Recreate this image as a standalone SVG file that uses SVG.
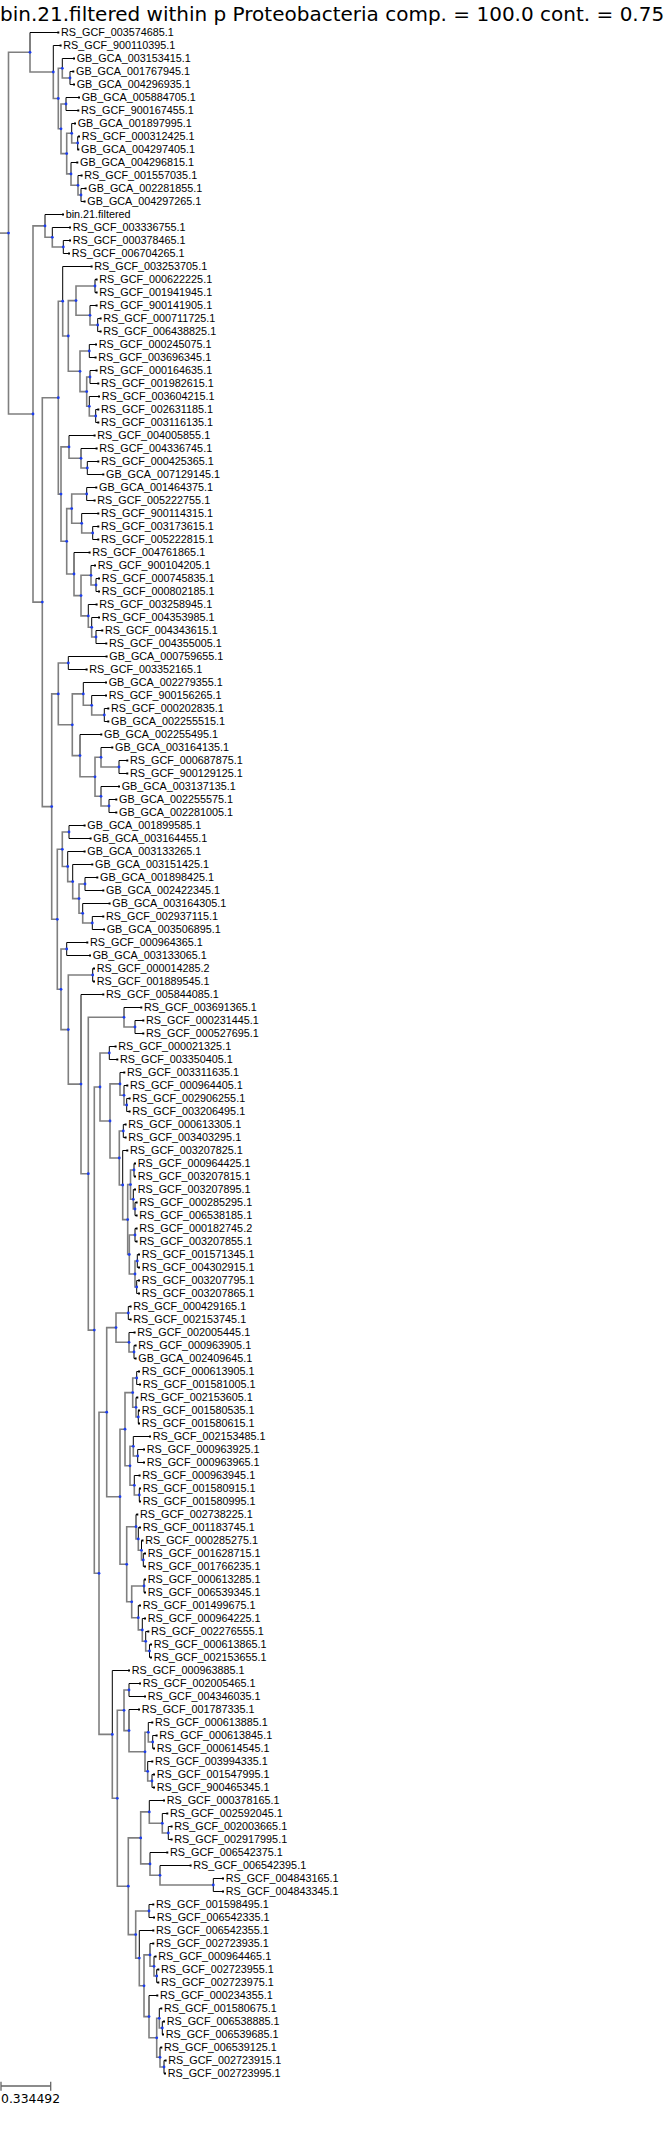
<svg xmlns="http://www.w3.org/2000/svg" xmlns:xlink="http://www.w3.org/1999/xlink" width="671" height="2131" viewBox="0 0 671 2131">
<style>
.k{fill:none;stroke:#000;stroke-width:1}
.g{fill:none;stroke:#7f7f7f;stroke-width:1.6}
.l{font-family:"Liberation Sans",Arial,sans-serif;font-size:10.8px;fill:#000}
.t{font-family:"DejaVu Sans",Verdana,sans-serif;fill:#000}
</style>
<defs>
<rect id="s" x="-1" y="-1" width="2" height="2" fill="#000"/>
<circle id="d" r="1.4" fill="#1a3cf0"/>
</defs>
<rect width="671" height="2131" fill="#fff"/>
<text class="t" x="0" y="20.7" font-size="20">bin.21.filtered within p Proteobacteria comp. = 100.0 cont. = 0.75</text>
<g transform="translate(0,0.5)">
<g id="connectors">
<path class="g" d="M0 232.6H8.5"/>
<path class="g" d="M8.5 232.6V51.8H30"/><path class="g" d="M8.5 232.6V413.5H33"/>
<path class="k" d="M30 51.8V32H58.3"/><path class="g" d="M30 51.8V71.5H53.3"/>
<path class="k" d="M53.3 71.5V45H60.6"/><path class="g" d="M53.3 71.5V98H58.3"/>
<path class="g" d="M58.3 98V67.8H62.3"/><path class="g" d="M58.3 98V128.3H61"/>
<path class="k" d="M62.3 67.8V58H74"/><path class="g" d="M62.3 67.8V77.5H70"/>
<path class="k" d="M70 77.5V71H73.3"/><path class="k" d="M70 77.5V84H74"/>
<path class="g" d="M61 128.3V103.5H66"/><path class="g" d="M61 128.3V153.1H66.7"/>
<path class="k" d="M66 103.5V97H79"/><path class="k" d="M66 103.5V110H78.3"/>
<path class="g" d="M66.7 153.1V132.8H71.7"/><path class="g" d="M66.7 153.1V173.4H71"/>
<path class="k" d="M71.7 132.8V123H75"/><path class="g" d="M71.7 132.8V142.5H77.7"/>
<path class="k" d="M77.7 142.5V136H79"/><path class="k" d="M77.7 142.5V149H78.3"/>
<path class="k" d="M71 173.4V162H77.3"/><path class="g" d="M71 173.4V184.8H78"/>
<path class="k" d="M78 184.8V175H81.6"/><path class="g" d="M78 184.8V194.5H81"/>
<path class="k" d="M81 194.5V188H85.6"/><path class="k" d="M81 194.5V201H84.6"/>
<path class="g" d="M33 413.5V225.4H45"/><path class="g" d="M33 413.5V601.6H42.3"/>
<path class="k" d="M45 225.4V214H63"/><path class="g" d="M45 225.4V236.8H52.3"/>
<path class="k" d="M52.3 236.8V227H70"/><path class="g" d="M52.3 236.8V246.5H63.3"/>
<path class="k" d="M63.3 246.5V240H70"/><path class="k" d="M63.3 246.5V253H69"/>
<path class="g" d="M42.3 601.6V397.2H58.3"/><path class="g" d="M42.3 601.6V806.1H51.7"/>
<path class="g" d="M58.3 397.2V300.7H62.7"/><path class="g" d="M58.3 397.2V493.6H61"/>
<path class="k" d="M62.7 300.7V266H91.6"/><path class="g" d="M62.7 300.7V335.5H68.3"/>
<path class="g" d="M68.3 335.5V300.1H76"/><path class="g" d="M68.3 335.5V370.8H80"/>
<path class="g" d="M76 300.1V285.5H95"/><path class="g" d="M76 300.1V314.8H90"/>
<path class="k" d="M95 285.5V279H96.6"/><path class="k" d="M95 285.5V292H96.6"/>
<path class="k" d="M90 314.8V305H96.6"/><path class="g" d="M90 314.8V324.5H97.7"/>
<path class="k" d="M97.7 324.5V318H100.6"/><path class="k" d="M97.7 324.5V331H100.6"/>
<path class="g" d="M80 370.8V350.5H89.3"/><path class="g" d="M80 370.8V391.1H86.7"/>
<path class="k" d="M89.3 350.5V344H96"/><path class="k" d="M89.3 350.5V357H95.6"/>
<path class="g" d="M86.7 391.1V376.5H90"/><path class="g" d="M86.7 391.1V405.8H89.3"/>
<path class="k" d="M90 376.5V370H96.6"/><path class="k" d="M90 376.5V383H98.3"/>
<path class="k" d="M89.3 405.8V396H99"/><path class="g" d="M89.3 405.8V415.5H95.7"/>
<path class="k" d="M95.7 415.5V409H98.3"/><path class="k" d="M95.7 415.5V422H98.3"/>
<path class="g" d="M61 493.6V446.4H69"/><path class="g" d="M61 493.6V540.8H66.7"/>
<path class="k" d="M69 446.4V435H94.6"/><path class="g" d="M69 446.4V457.8H81"/>
<path class="k" d="M81 457.8V448H96.6"/><path class="g" d="M81 457.8V467.5H87.3"/>
<path class="k" d="M87.3 467.5V461H98.3"/><path class="k" d="M87.3 467.5V474H103.3"/>
<path class="g" d="M66.7 540.8V508.1H71.7"/><path class="g" d="M66.7 540.8V573.5H74"/>
<path class="g" d="M71.7 508.1V493.5H86.7"/><path class="g" d="M71.7 508.1V522.8H81.7"/>
<path class="k" d="M86.7 493.5V487H96.3"/><path class="k" d="M86.7 493.5V500H94.6"/>
<path class="k" d="M81.7 522.8V513H98.3"/><path class="g" d="M81.7 522.8V532.5H92.7"/>
<path class="k" d="M92.7 532.5V526H98.3"/><path class="k" d="M92.7 532.5V539H98.3"/>
<path class="k" d="M74 573.5V552H89.6"/><path class="g" d="M74 573.5V595.1H81"/>
<path class="g" d="M81 595.1V574.8H91"/><path class="g" d="M81 595.1V615.4H88.3"/>
<path class="k" d="M91 574.8V565H95"/><path class="g" d="M91 574.8V584.5H96"/>
<path class="k" d="M96 584.5V578H99"/><path class="k" d="M96 584.5V591H99"/>
<path class="k" d="M88.3 615.4V604H96.6"/><path class="g" d="M88.3 615.4V626.8H91.7"/>
<path class="k" d="M91.7 626.8V617H99"/><path class="g" d="M91.7 626.8V636.5H96"/>
<path class="k" d="M96 636.5V630H102.3"/><path class="k" d="M96 636.5V643H106.3"/>
<path class="g" d="M51.7 806.1V693.4H58.3"/><path class="g" d="M51.7 806.1V918.8H57.3"/>
<path class="g" d="M58.3 693.4V662.5H68.3"/><path class="g" d="M58.3 693.4V724.3H72.3"/>
<path class="k" d="M68.3 662.5V656H106.6"/><path class="k" d="M68.3 662.5V669H86.6"/>
<path class="g" d="M72.3 724.3V693.4H83.3"/><path class="g" d="M72.3 724.3V755.1H80"/>
<path class="k" d="M83.3 693.4V682H106"/><path class="g" d="M83.3 693.4V704.8H91.7"/>
<path class="k" d="M91.7 704.8V695H106"/><path class="g" d="M91.7 704.8V714.5H104.3"/>
<path class="k" d="M104.3 714.5V708H108.3"/><path class="k" d="M104.3 714.5V721H108.3"/>
<path class="k" d="M80 755.1V734H101.3"/><path class="g" d="M80 755.1V776.3H95"/>
<path class="g" d="M95 776.3V756.8H101"/><path class="g" d="M95 776.3V795.8H101"/>
<path class="k" d="M101 756.8V747H112.3"/><path class="g" d="M101 756.8V766.5H119"/>
<path class="k" d="M119 766.5V760H127.3"/><path class="k" d="M119 766.5V773H127.3"/>
<path class="k" d="M101 795.8V786H119"/><path class="g" d="M101 795.8V805.5H109"/>
<path class="k" d="M109 805.5V799H116.3"/><path class="k" d="M109 805.5V812H116.3"/>
<path class="g" d="M57.3 918.8V848.8H62.3"/><path class="g" d="M57.3 918.8V988.8H61"/>
<path class="g" d="M62.3 848.8V831.5H69"/><path class="g" d="M62.3 848.8V866H67.7"/>
<path class="k" d="M69 831.5V825H84.6"/><path class="k" d="M69 831.5V838H90.6"/>
<path class="k" d="M67.7 866V851H84.6"/><path class="g" d="M67.7 866V881.1H72.7"/>
<path class="k" d="M72.7 881.1V864H92.3"/><path class="g" d="M72.7 881.1V898.1H79"/>
<path class="g" d="M79 898.1V883.5H85"/><path class="g" d="M79 898.1V912.8H82.7"/>
<path class="k" d="M85 883.5V877H97.3"/><path class="k" d="M85 883.5V890H103.3"/>
<path class="k" d="M82.7 912.8V903H109.6"/><path class="g" d="M82.7 912.8V922.5H92.3"/>
<path class="k" d="M92.3 922.5V916H103.3"/><path class="k" d="M92.3 922.5V929H104"/>
<path class="g" d="M61 988.8V948.5H66.7"/><path class="g" d="M61 988.8V1029.1H68.3"/>
<path class="k" d="M66.7 948.5V942H87.3"/><path class="k" d="M66.7 948.5V955H90"/>
<path class="g" d="M68.3 1029.1V974.5H92.7"/><path class="g" d="M68.3 1029.1V1083.6H81"/>
<path class="k" d="M92.7 974.5V968H94"/><path class="k" d="M92.7 974.5V981H94"/>
<path class="k" d="M81 1083.6V994H103.3"/><path class="g" d="M81 1083.6V1173.2H88.3"/>
<path class="g" d="M88.3 1173.2V1016.8H124"/><path class="g" d="M88.3 1173.2V1329.6H94.3"/>
<path class="k" d="M124 1016.8V1007H141.3"/><path class="g" d="M124 1016.8V1026.5H135"/>
<path class="k" d="M135 1026.5V1020H143.3"/><path class="k" d="M135 1026.5V1033H143.3"/>
<path class="g" d="M94.3 1329.6V1086.5H100"/><path class="g" d="M94.3 1329.6V1572.8H99"/>
<path class="g" d="M100 1086.5V1052.5H109.3"/><path class="g" d="M100 1086.5V1120.5H110"/>
<path class="k" d="M109.3 1052.5V1046H115.6"/><path class="k" d="M109.3 1052.5V1059H117.3"/>
<path class="g" d="M110 1120.5V1083.4H120"/><path class="g" d="M110 1120.5V1157.5H119.3"/>
<path class="k" d="M120 1083.4V1072H124.3"/><path class="g" d="M120 1083.4V1094.8H124"/>
<path class="k" d="M124 1094.8V1085H127.3"/><path class="g" d="M124 1094.8V1104.5H126.7"/>
<path class="k" d="M126.7 1104.5V1098H129.6"/><path class="k" d="M126.7 1104.5V1111H129.6"/>
<path class="g" d="M119.3 1157.5V1130.5H123.3"/><path class="g" d="M119.3 1157.5V1184.5H122.7"/>
<path class="k" d="M123.3 1130.5V1124H125.6"/><path class="k" d="M123.3 1130.5V1137H125.6"/>
<path class="k" d="M122.7 1184.5V1150H127.3"/><path class="g" d="M122.7 1184.5V1219.1H127.7"/>
<path class="g" d="M127.7 1219.1V1184.1H130.5"/><path class="g" d="M127.7 1219.1V1254H129.3"/>
<path class="g" d="M130.5 1184.1V1169.5H134"/><path class="g" d="M130.5 1184.1V1198.8H133.3"/>
<path class="k" d="M134 1169.5V1163H135"/><path class="k" d="M134 1169.5V1176H135"/>
<path class="k" d="M133.3 1198.8V1189H135"/><path class="g" d="M133.3 1198.8V1208.5H135"/>
<path class="k" d="M135 1208.5V1202H136.6"/><path class="k" d="M135 1208.5V1215H136.6"/>
<path class="g" d="M129.3 1254V1234.5H135"/><path class="g" d="M129.3 1254V1273.5H135"/>
<path class="k" d="M135 1234.5V1228H136.6"/><path class="k" d="M135 1234.5V1241H136.6"/>
<path class="g" d="M135 1273.5V1260.5H137.3"/><path class="g" d="M135 1273.5V1286.5H136.7"/>
<path class="k" d="M137.3 1260.5V1254H139"/><path class="k" d="M137.3 1260.5V1267H139"/>
<path class="k" d="M136.7 1286.5V1280H139"/><path class="k" d="M136.7 1286.5V1293H139"/>
<path class="g" d="M99 1572.8V1411.7H106.7"/><path class="g" d="M99 1572.8V1733.9H112.3"/>
<path class="g" d="M106.7 1411.7V1327.1H116"/><path class="g" d="M106.7 1411.7V1496.2H120"/>
<path class="g" d="M116 1327.1V1312.5H128.3"/><path class="g" d="M116 1327.1V1341.8H129"/>
<path class="k" d="M128.3 1312.5V1306H130.6"/><path class="k" d="M128.3 1312.5V1319H130.6"/>
<path class="k" d="M129 1341.8V1332H134.6"/><path class="g" d="M129 1341.8V1351.5H134"/>
<path class="k" d="M134 1351.5V1345H135.6"/><path class="k" d="M134 1351.5V1358H135.6"/>
<path class="g" d="M120 1496.2V1428.7H125"/><path class="g" d="M120 1496.2V1563.8H126.7"/>
<path class="g" d="M125 1428.7V1392.1H132.7"/><path class="g" d="M125 1428.7V1465.3H130"/>
<path class="g" d="M132.7 1392.1V1377.5H136.7"/><path class="g" d="M132.7 1392.1V1406.8H136"/>
<path class="k" d="M136.7 1377.5V1371H139"/><path class="k" d="M136.7 1377.5V1384H140"/>
<path class="k" d="M136 1406.8V1397H137.3"/><path class="g" d="M136 1406.8V1416.5H138.3"/>
<path class="k" d="M138.3 1416.5V1410H139"/><path class="k" d="M138.3 1416.5V1423H139"/>
<path class="g" d="M130 1465.3V1445.8H133.3"/><path class="g" d="M130 1465.3V1484.8H134.3"/>
<path class="k" d="M133.3 1445.8V1436H150"/><path class="g" d="M133.3 1445.8V1455.5H137.7"/>
<path class="k" d="M137.7 1455.5V1449H144"/><path class="k" d="M137.7 1455.5V1462H144"/>
<path class="k" d="M134.3 1484.8V1475H139.6"/><path class="g" d="M134.3 1484.8V1494.5H139.3"/>
<path class="k" d="M139.3 1494.5V1488H140"/><path class="k" d="M139.3 1494.5V1501H140"/>
<path class="g" d="M126.7 1563.8V1526.2H136"/><path class="g" d="M126.7 1563.8V1601.3H131.7"/>
<path class="k" d="M136 1526.2V1514H137.3"/><path class="g" d="M136 1526.2V1538.4H138.3"/>
<path class="k" d="M138.3 1538.4V1527H140"/><path class="g" d="M138.3 1538.4V1549.8H141.5"/>
<path class="k" d="M141.5 1549.8V1540H142.5"/><path class="g" d="M141.5 1549.8V1559.5H143.3"/>
<path class="k" d="M143.3 1559.5V1553H145"/><path class="k" d="M143.3 1559.5V1566H145"/>
<path class="g" d="M131.7 1601.3V1585.5H144"/><path class="g" d="M131.7 1601.3V1617.2H138.3"/>
<path class="k" d="M144 1585.5V1579H145"/><path class="k" d="M144 1585.5V1592H145"/>
<path class="k" d="M138.3 1617.2V1605H140"/><path class="g" d="M138.3 1617.2V1629.4H142.3"/>
<path class="k" d="M142.3 1629.4V1618H145"/><path class="g" d="M142.3 1629.4V1640.8H145.7"/>
<path class="k" d="M145.7 1640.8V1631H148.3"/><path class="g" d="M145.7 1640.8V1650.5H149.5"/>
<path class="k" d="M149.5 1650.5V1644H151"/><path class="k" d="M149.5 1650.5V1657H151"/>
<path class="k" d="M112.3 1733.9V1670H129"/><path class="g" d="M112.3 1733.9V1797.8H117.3"/>
<path class="g" d="M117.3 1797.8V1709.8H124"/><path class="g" d="M117.3 1797.8V1885.7H128.3"/>
<path class="g" d="M124 1709.8V1689.5H129"/><path class="g" d="M124 1709.8V1730.1H129"/>
<path class="k" d="M129 1689.5V1683H140"/><path class="k" d="M129 1689.5V1696H145"/>
<path class="k" d="M129 1730.1V1709H139"/><path class="g" d="M129 1730.1V1751.3H145"/>
<path class="g" d="M145 1751.3V1731.8H148.3"/><path class="g" d="M145 1751.3V1770.8H147.7"/>
<path class="k" d="M148.3 1731.8V1722H152.3"/><path class="g" d="M148.3 1731.8V1741.5H152.7"/>
<path class="k" d="M152.7 1741.5V1735H156.6"/><path class="k" d="M152.7 1741.5V1748H154"/>
<path class="k" d="M147.7 1770.8V1761H152.3"/><path class="g" d="M147.7 1770.8V1780.5H152"/>
<path class="k" d="M152 1780.5V1774H154"/><path class="k" d="M152 1780.5V1787H154"/>
<path class="g" d="M128.3 1885.7V1837.4H140.7"/><path class="g" d="M128.3 1885.7V1934.1H135.7"/>
<path class="g" d="M140.7 1837.4V1811.4H149.3"/><path class="g" d="M140.7 1837.4V1863.4H150"/>
<path class="k" d="M149.3 1811.4V1800H164"/><path class="g" d="M149.3 1811.4V1822.8H162.3"/>
<path class="k" d="M162.3 1822.8V1813H167.3"/><path class="g" d="M162.3 1822.8V1832.5H168.3"/>
<path class="k" d="M168.3 1832.5V1826H171.6"/><path class="k" d="M168.3 1832.5V1839H171.6"/>
<path class="k" d="M150 1863.4V1852H167.3"/><path class="g" d="M150 1863.4V1874.8H160"/>
<path class="k" d="M160 1874.8V1865H190.6"/><path class="g" d="M160 1874.8V1884.5H213.3"/>
<path class="k" d="M213.3 1884.5V1878H223"/><path class="k" d="M213.3 1884.5V1891H223"/>
<path class="g" d="M135.7 1934.1V1910.5H149"/><path class="g" d="M135.7 1934.1V1957.6H139.3"/>
<path class="k" d="M149 1910.5V1904H153.3"/><path class="k" d="M149 1910.5V1917H154"/>
<path class="k" d="M139.3 1957.6V1930H153.3"/><path class="g" d="M139.3 1957.6V1985.3H144"/>
<path class="g" d="M144 1985.3V1954.4H150"/><path class="g" d="M144 1985.3V2016.1H149"/>
<path class="k" d="M150 1954.4V1943H153.3"/><path class="g" d="M150 1954.4V1965.8H154"/>
<path class="k" d="M154 1965.8V1956H155.6"/><path class="g" d="M154 1965.8V1975.5H156.7"/>
<path class="k" d="M156.7 1975.5V1969H158.3"/><path class="k" d="M156.7 1975.5V1982H158.3"/>
<path class="k" d="M149 2016.1V1995H157.3"/><path class="g" d="M149 2016.1V2037.3H156.7"/>
<path class="g" d="M156.7 2037.3V2017.8H159.3"/><path class="g" d="M156.7 2037.3V2056.8H160"/>
<path class="k" d="M159.3 2017.8V2008H161.3"/><path class="g" d="M159.3 2017.8V2027.5H162.3"/>
<path class="k" d="M162.3 2027.5V2021H164"/><path class="k" d="M162.3 2027.5V2034H163"/>
<path class="k" d="M160 2056.8V2047H161.3"/><path class="g" d="M160 2056.8V2066.5H164"/>
<path class="k" d="M164 2066.5V2060H165.6"/><path class="k" d="M164 2066.5V2073H165"/>
</g>
<g id="internal-nodes">
<g id="root"><use href="#d" x="8.5" y="232.6"/></g>
<g id="nA"><use href="#d" x="30" y="51.8"/></g>
<g id="nA2"><use href="#d" x="53.3" y="71.5"/></g>
<g id="nA3"><use href="#d" x="58.3" y="98"/></g>
<g id="n3_5"><use href="#d" x="62.3" y="67.8"/></g>
<g id="n4_5"><use href="#d" x="70" y="77.5"/></g>
<g id="n6_14"><use href="#d" x="61" y="128.3"/></g>
<g id="n6_7"><use href="#d" x="66" y="103.5"/></g>
<g id="n8_14"><use href="#d" x="66.7" y="153.1"/></g>
<g id="n8_10"><use href="#d" x="71.7" y="132.8"/></g>
<g id="n9_10"><use href="#d" x="77.7" y="142.5"/></g>
<g id="n11_14"><use href="#d" x="71" y="173.4"/></g>
<g id="n12_14"><use href="#d" x="78" y="184.8"/></g>
<g id="n13_14"><use href="#d" x="81" y="194.5"/></g>
<g id="nB"><use href="#d" x="33" y="413.5"/></g>
<g id="n15_18"><use href="#d" x="45" y="225.4"/></g>
<g id="n16_18"><use href="#d" x="52.3" y="236.8"/></g>
<g id="n17_18"><use href="#d" x="63.3" y="246.5"/></g>
<g id="nB2"><use href="#d" x="42.3" y="601.6"/></g>
<g id="nC"><use href="#d" x="58.3" y="397.2"/></g>
<g id="nC1"><use href="#d" x="62.7" y="300.7"/></g>
<g id="nC1a"><use href="#d" x="68.3" y="335.5"/></g>
<g id="n20_24"><use href="#d" x="76" y="300.1"/></g>
<g id="n20_21"><use href="#d" x="95" y="285.5"/></g>
<g id="n22_24"><use href="#d" x="90" y="314.8"/></g>
<g id="n23_24"><use href="#d" x="97.7" y="324.5"/></g>
<g id="n25_31"><use href="#d" x="80" y="370.8"/></g>
<g id="n25_26"><use href="#d" x="89.3" y="350.5"/></g>
<g id="n27_31"><use href="#d" x="86.7" y="391.1"/></g>
<g id="n27_28"><use href="#d" x="90" y="376.5"/></g>
<g id="n29_31"><use href="#d" x="89.3" y="405.8"/></g>
<g id="n30_31"><use href="#d" x="95.7" y="415.5"/></g>
<g id="nC2"><use href="#d" x="61" y="493.6"/></g>
<g id="n32_35"><use href="#d" x="69" y="446.4"/></g>
<g id="n33_35"><use href="#d" x="81" y="457.8"/></g>
<g id="n34_35"><use href="#d" x="87.3" y="467.5"/></g>
<g id="n36_48"><use href="#d" x="66.7" y="540.8"/></g>
<g id="n36_40"><use href="#d" x="71.7" y="508.1"/></g>
<g id="n36_37"><use href="#d" x="86.7" y="493.5"/></g>
<g id="n38_40"><use href="#d" x="81.7" y="522.8"/></g>
<g id="n39_40"><use href="#d" x="92.7" y="532.5"/></g>
<g id="n41_48"><use href="#d" x="74" y="573.5"/></g>
<g id="n42_48"><use href="#d" x="81" y="595.1"/></g>
<g id="n42_44"><use href="#d" x="91" y="574.8"/></g>
<g id="n43_44"><use href="#d" x="96" y="584.5"/></g>
<g id="n45_48"><use href="#d" x="88.3" y="615.4"/></g>
<g id="n46_48"><use href="#d" x="91.7" y="626.8"/></g>
<g id="n47_48"><use href="#d" x="96" y="636.5"/></g>
<g id="nD"><use href="#d" x="51.7" y="806.1"/></g>
<g id="nD1"><use href="#d" x="58.3" y="693.4"/></g>
<g id="n49_50"><use href="#d" x="68.3" y="662.5"/></g>
<g id="n51_61"><use href="#d" x="72.3" y="724.3"/></g>
<g id="n51_54"><use href="#d" x="83.3" y="693.4"/></g>
<g id="n52_54"><use href="#d" x="91.7" y="704.8"/></g>
<g id="n53_54"><use href="#d" x="104.3" y="714.5"/></g>
<g id="n55_61"><use href="#d" x="80" y="755.1"/></g>
<g id="n56_61"><use href="#d" x="95" y="776.3"/></g>
<g id="n56_58"><use href="#d" x="101" y="756.8"/></g>
<g id="n57_58"><use href="#d" x="119" y="766.5"/></g>
<g id="n59_61"><use href="#d" x="101" y="795.8"/></g>
<g id="n60_61"><use href="#d" x="109" y="805.5"/></g>
<g id="nD2"><use href="#d" x="57.3" y="918.8"/></g>
<g id="n62_70"><use href="#d" x="62.3" y="848.8"/></g>
<g id="n62_63"><use href="#d" x="69" y="831.5"/></g>
<g id="n64_70"><use href="#d" x="67.7" y="866"/></g>
<g id="n65_70"><use href="#d" x="72.7" y="881.1"/></g>
<g id="n66_70"><use href="#d" x="79" y="898.1"/></g>
<g id="n66_67"><use href="#d" x="85" y="883.5"/></g>
<g id="n68_70"><use href="#d" x="82.7" y="912.8"/></g>
<g id="n69_70"><use href="#d" x="92.3" y="922.5"/></g>
<g id="n71_158"><use href="#d" x="61" y="988.8"/></g>
<g id="n71_72"><use href="#d" x="66.7" y="948.5"/></g>
<g id="n73_158"><use href="#d" x="68.3" y="1029.1"/></g>
<g id="n73_74"><use href="#d" x="92.7" y="974.5"/></g>
<g id="n75_158"><use href="#d" x="81" y="1083.6"/></g>
<g id="n76_158"><use href="#d" x="88.3" y="1173.2"/></g>
<g id="n76_78"><use href="#d" x="124" y="1016.8"/></g>
<g id="n77_78"><use href="#d" x="135" y="1026.5"/></g>
<g id="n79_158"><use href="#d" x="94.3" y="1329.6"/></g>
<g id="n79_98"><use href="#d" x="100" y="1086.5"/></g>
<g id="n79_80"><use href="#d" x="109.3" y="1052.5"/></g>
<g id="n81_98"><use href="#d" x="110" y="1120.5"/></g>
<g id="n81_84"><use href="#d" x="120" y="1083.4"/></g>
<g id="n82_84"><use href="#d" x="124" y="1094.8"/></g>
<g id="n83_84"><use href="#d" x="126.7" y="1104.5"/></g>
<g id="n85_98"><use href="#d" x="119.3" y="1157.5"/></g>
<g id="n85_86"><use href="#d" x="123.3" y="1130.5"/></g>
<g id="n87_98"><use href="#d" x="122.7" y="1184.5"/></g>
<g id="n88_98"><use href="#d" x="127.7" y="1219.1"/></g>
<g id="n88_92"><use href="#d" x="130.5" y="1184.1"/></g>
<g id="n88_89"><use href="#d" x="134" y="1169.5"/></g>
<g id="n90_92"><use href="#d" x="133.3" y="1198.8"/></g>
<g id="n91_92"><use href="#d" x="135" y="1208.5"/></g>
<g id="n93_98"><use href="#d" x="129.3" y="1254"/></g>
<g id="n93_94"><use href="#d" x="135" y="1234.5"/></g>
<g id="n95_98"><use href="#d" x="135" y="1273.5"/></g>
<g id="n95_96"><use href="#d" x="137.3" y="1260.5"/></g>
<g id="n97_98"><use href="#d" x="136.7" y="1286.5"/></g>
<g id="n99_158"><use href="#d" x="99" y="1572.8"/></g>
<g id="n99_126"><use href="#d" x="106.7" y="1411.7"/></g>
<g id="n99_103"><use href="#d" x="116" y="1327.1"/></g>
<g id="n99_100"><use href="#d" x="128.3" y="1312.5"/></g>
<g id="n101_103"><use href="#d" x="129" y="1341.8"/></g>
<g id="n102_103"><use href="#d" x="134" y="1351.5"/></g>
<g id="n104_126"><use href="#d" x="120" y="1496.2"/></g>
<g id="n104_114"><use href="#d" x="125" y="1428.7"/></g>
<g id="n104_108"><use href="#d" x="132.7" y="1392.1"/></g>
<g id="n104_105"><use href="#d" x="136.7" y="1377.5"/></g>
<g id="n106_108"><use href="#d" x="136" y="1406.8"/></g>
<g id="n107_108"><use href="#d" x="138.3" y="1416.5"/></g>
<g id="n109_114"><use href="#d" x="130" y="1465.3"/></g>
<g id="n109_111"><use href="#d" x="133.3" y="1445.8"/></g>
<g id="n110_111"><use href="#d" x="137.7" y="1455.5"/></g>
<g id="n112_114"><use href="#d" x="134.3" y="1484.8"/></g>
<g id="n113_114"><use href="#d" x="139.3" y="1494.5"/></g>
<g id="n115_126"><use href="#d" x="126.7" y="1563.8"/></g>
<g id="n115_119"><use href="#d" x="136" y="1526.2"/></g>
<g id="n116_119"><use href="#d" x="138.3" y="1538.4"/></g>
<g id="n117_119"><use href="#d" x="141.5" y="1549.8"/></g>
<g id="n118_119"><use href="#d" x="143.3" y="1559.5"/></g>
<g id="n120_126"><use href="#d" x="131.7" y="1601.3"/></g>
<g id="n120_121"><use href="#d" x="144" y="1585.5"/></g>
<g id="n122_126"><use href="#d" x="138.3" y="1617.2"/></g>
<g id="n123_126"><use href="#d" x="142.3" y="1629.4"/></g>
<g id="n124_126"><use href="#d" x="145.7" y="1640.8"/></g>
<g id="n125_126"><use href="#d" x="149.5" y="1650.5"/></g>
<g id="n127_158"><use href="#d" x="112.3" y="1733.9"/></g>
<g id="n128_158"><use href="#d" x="117.3" y="1797.8"/></g>
<g id="n128_136"><use href="#d" x="124" y="1709.8"/></g>
<g id="n128_129"><use href="#d" x="129" y="1689.5"/></g>
<g id="n130_136"><use href="#d" x="129" y="1730.1"/></g>
<g id="n131_136"><use href="#d" x="145" y="1751.3"/></g>
<g id="n131_133"><use href="#d" x="148.3" y="1731.8"/></g>
<g id="n132_133"><use href="#d" x="152.7" y="1741.5"/></g>
<g id="n134_136"><use href="#d" x="147.7" y="1770.8"/></g>
<g id="n135_136"><use href="#d" x="152" y="1780.5"/></g>
<g id="n137_158"><use href="#d" x="128.3" y="1885.7"/></g>
<g id="n137_144"><use href="#d" x="140.7" y="1837.4"/></g>
<g id="n137_140"><use href="#d" x="149.3" y="1811.4"/></g>
<g id="n138_140"><use href="#d" x="162.3" y="1822.8"/></g>
<g id="n139_140"><use href="#d" x="168.3" y="1832.5"/></g>
<g id="n141_144"><use href="#d" x="150" y="1863.4"/></g>
<g id="n142_144"><use href="#d" x="160" y="1874.8"/></g>
<g id="n143_144"><use href="#d" x="213.3" y="1884.5"/></g>
<g id="n145_158"><use href="#d" x="135.7" y="1934.1"/></g>
<g id="n145_146"><use href="#d" x="149" y="1910.5"/></g>
<g id="n147_158"><use href="#d" x="139.3" y="1957.6"/></g>
<g id="n148_158"><use href="#d" x="144" y="1985.3"/></g>
<g id="n148_151"><use href="#d" x="150" y="1954.4"/></g>
<g id="n149_151"><use href="#d" x="154" y="1965.8"/></g>
<g id="n150_151"><use href="#d" x="156.7" y="1975.5"/></g>
<g id="n152_158"><use href="#d" x="149" y="2016.1"/></g>
<g id="n153_158"><use href="#d" x="156.7" y="2037.3"/></g>
<g id="n153_155"><use href="#d" x="159.3" y="2017.8"/></g>
<g id="n154_155"><use href="#d" x="162.3" y="2027.5"/></g>
<g id="n156_158"><use href="#d" x="160" y="2056.8"/></g>
<g id="n157_158"><use href="#d" x="164" y="2066.5"/></g>
</g>
<g id="leaves">
<g id="L1" transform="translate(58.3 32)"><use href="#s"/><text class="l" x="2.7" y="3.6">RS_GCF_003574685.1</text></g>
<g id="L2" transform="translate(60.6 45)"><use href="#s"/><text class="l" x="2.7" y="3.6">RS_GCF_900110395.1</text></g>
<g id="L3" transform="translate(74 58)"><use href="#s"/><text class="l" x="2.7" y="3.6">GB_GCA_003153415.1</text></g>
<g id="L4" transform="translate(73.3 71)"><use href="#s"/><text class="l" x="2.7" y="3.6">GB_GCA_001767945.1</text></g>
<g id="L5" transform="translate(74 84)"><use href="#s"/><text class="l" x="2.7" y="3.6">GB_GCA_004296935.1</text></g>
<g id="L6" transform="translate(79 97)"><use href="#s"/><text class="l" x="2.7" y="3.6">GB_GCA_005884705.1</text></g>
<g id="L7" transform="translate(78.3 110)"><use href="#s"/><text class="l" x="2.7" y="3.6">RS_GCF_900167455.1</text></g>
<g id="L8" transform="translate(75 123)"><use href="#s"/><text class="l" x="2.7" y="3.6">GB_GCA_001897995.1</text></g>
<g id="L9" transform="translate(79 136)"><use href="#s"/><text class="l" x="2.7" y="3.6">RS_GCF_000312425.1</text></g>
<g id="L10" transform="translate(78.3 149)"><use href="#s"/><text class="l" x="2.7" y="3.6">GB_GCA_004297405.1</text></g>
<g id="L11" transform="translate(77.3 162)"><use href="#s"/><text class="l" x="2.7" y="3.6">GB_GCA_004296815.1</text></g>
<g id="L12" transform="translate(81.6 175)"><use href="#s"/><text class="l" x="2.7" y="3.6">RS_GCF_001557035.1</text></g>
<g id="L13" transform="translate(85.6 188)"><use href="#s"/><text class="l" x="2.7" y="3.6">GB_GCA_002281855.1</text></g>
<g id="L14" transform="translate(84.6 201)"><use href="#s"/><text class="l" x="2.7" y="3.6">GB_GCA_004297265.1</text></g>
<g id="L15" transform="translate(63 214)"><use href="#s"/><text class="l" x="2.7" y="3.6">bin.21.filtered</text></g>
<g id="L16" transform="translate(70 227)"><use href="#s"/><text class="l" x="2.7" y="3.6">RS_GCF_003336755.1</text></g>
<g id="L17" transform="translate(70 240)"><use href="#s"/><text class="l" x="2.7" y="3.6">RS_GCF_000378465.1</text></g>
<g id="L18" transform="translate(69 253)"><use href="#s"/><text class="l" x="2.7" y="3.6">RS_GCF_006704265.1</text></g>
<g id="L19" transform="translate(91.6 266)"><use href="#s"/><text class="l" x="2.7" y="3.6">RS_GCF_003253705.1</text></g>
<g id="L20" transform="translate(96.6 279)"><use href="#s"/><text class="l" x="2.7" y="3.6">RS_GCF_000622225.1</text></g>
<g id="L21" transform="translate(96.6 292)"><use href="#s"/><text class="l" x="2.7" y="3.6">RS_GCF_001941945.1</text></g>
<g id="L22" transform="translate(96.6 305)"><use href="#s"/><text class="l" x="2.7" y="3.6">RS_GCF_900141905.1</text></g>
<g id="L23" transform="translate(100.6 318)"><use href="#s"/><text class="l" x="2.7" y="3.6">RS_GCF_000711725.1</text></g>
<g id="L24" transform="translate(100.6 331)"><use href="#s"/><text class="l" x="2.7" y="3.6">RS_GCF_006438825.1</text></g>
<g id="L25" transform="translate(96 344)"><use href="#s"/><text class="l" x="2.7" y="3.6">RS_GCF_000245075.1</text></g>
<g id="L26" transform="translate(95.6 357)"><use href="#s"/><text class="l" x="2.7" y="3.6">RS_GCF_003696345.1</text></g>
<g id="L27" transform="translate(96.6 370)"><use href="#s"/><text class="l" x="2.7" y="3.6">RS_GCF_000164635.1</text></g>
<g id="L28" transform="translate(98.3 383)"><use href="#s"/><text class="l" x="2.7" y="3.6">RS_GCF_001982615.1</text></g>
<g id="L29" transform="translate(99 396)"><use href="#s"/><text class="l" x="2.7" y="3.6">RS_GCF_003604215.1</text></g>
<g id="L30" transform="translate(98.3 409)"><use href="#s"/><text class="l" x="2.7" y="3.6">RS_GCF_002631185.1</text></g>
<g id="L31" transform="translate(98.3 422)"><use href="#s"/><text class="l" x="2.7" y="3.6">RS_GCF_003116135.1</text></g>
<g id="L32" transform="translate(94.6 435)"><use href="#s"/><text class="l" x="2.7" y="3.6">RS_GCF_004005855.1</text></g>
<g id="L33" transform="translate(96.6 448)"><use href="#s"/><text class="l" x="2.7" y="3.6">RS_GCF_004336745.1</text></g>
<g id="L34" transform="translate(98.3 461)"><use href="#s"/><text class="l" x="2.7" y="3.6">RS_GCF_000425365.1</text></g>
<g id="L35" transform="translate(103.3 474)"><use href="#s"/><text class="l" x="2.7" y="3.6">GB_GCA_007129145.1</text></g>
<g id="L36" transform="translate(96.3 487)"><use href="#s"/><text class="l" x="2.7" y="3.6">GB_GCA_001464375.1</text></g>
<g id="L37" transform="translate(94.6 500)"><use href="#s"/><text class="l" x="2.7" y="3.6">RS_GCF_005222755.1</text></g>
<g id="L38" transform="translate(98.3 513)"><use href="#s"/><text class="l" x="2.7" y="3.6">RS_GCF_900114315.1</text></g>
<g id="L39" transform="translate(98.3 526)"><use href="#s"/><text class="l" x="2.7" y="3.6">RS_GCF_003173615.1</text></g>
<g id="L40" transform="translate(98.3 539)"><use href="#s"/><text class="l" x="2.7" y="3.6">RS_GCF_005222815.1</text></g>
<g id="L41" transform="translate(89.6 552)"><use href="#s"/><text class="l" x="2.7" y="3.6">RS_GCF_004761865.1</text></g>
<g id="L42" transform="translate(95 565)"><use href="#s"/><text class="l" x="2.7" y="3.6">RS_GCF_900104205.1</text></g>
<g id="L43" transform="translate(99 578)"><use href="#s"/><text class="l" x="2.7" y="3.6">RS_GCF_000745835.1</text></g>
<g id="L44" transform="translate(99 591)"><use href="#s"/><text class="l" x="2.7" y="3.6">RS_GCF_000802185.1</text></g>
<g id="L45" transform="translate(96.6 604)"><use href="#s"/><text class="l" x="2.7" y="3.6">RS_GCF_003258945.1</text></g>
<g id="L46" transform="translate(99 617)"><use href="#s"/><text class="l" x="2.7" y="3.6">RS_GCF_004353985.1</text></g>
<g id="L47" transform="translate(102.3 630)"><use href="#s"/><text class="l" x="2.7" y="3.6">RS_GCF_004343615.1</text></g>
<g id="L48" transform="translate(106.3 643)"><use href="#s"/><text class="l" x="2.7" y="3.6">RS_GCF_004355005.1</text></g>
<g id="L49" transform="translate(106.6 656)"><use href="#s"/><text class="l" x="2.7" y="3.6">GB_GCA_000759655.1</text></g>
<g id="L50" transform="translate(86.6 669)"><use href="#s"/><text class="l" x="2.7" y="3.6">RS_GCF_003352165.1</text></g>
<g id="L51" transform="translate(106 682)"><use href="#s"/><text class="l" x="2.7" y="3.6">GB_GCA_002279355.1</text></g>
<g id="L52" transform="translate(106 695)"><use href="#s"/><text class="l" x="2.7" y="3.6">RS_GCF_900156265.1</text></g>
<g id="L53" transform="translate(108.3 708)"><use href="#s"/><text class="l" x="2.7" y="3.6">RS_GCF_000202835.1</text></g>
<g id="L54" transform="translate(108.3 721)"><use href="#s"/><text class="l" x="2.7" y="3.6">GB_GCA_002255515.1</text></g>
<g id="L55" transform="translate(101.3 734)"><use href="#s"/><text class="l" x="2.7" y="3.6">GB_GCA_002255495.1</text></g>
<g id="L56" transform="translate(112.3 747)"><use href="#s"/><text class="l" x="2.7" y="3.6">GB_GCA_003164135.1</text></g>
<g id="L57" transform="translate(127.3 760)"><use href="#s"/><text class="l" x="2.7" y="3.6">RS_GCF_000687875.1</text></g>
<g id="L58" transform="translate(127.3 773)"><use href="#s"/><text class="l" x="2.7" y="3.6">RS_GCF_900129125.1</text></g>
<g id="L59" transform="translate(119 786)"><use href="#s"/><text class="l" x="2.7" y="3.6">GB_GCA_003137135.1</text></g>
<g id="L60" transform="translate(116.3 799)"><use href="#s"/><text class="l" x="2.7" y="3.6">GB_GCA_002255575.1</text></g>
<g id="L61" transform="translate(116.3 812)"><use href="#s"/><text class="l" x="2.7" y="3.6">GB_GCA_002281005.1</text></g>
<g id="L62" transform="translate(84.6 825)"><use href="#s"/><text class="l" x="2.7" y="3.6">GB_GCA_001899585.1</text></g>
<g id="L63" transform="translate(90.6 838)"><use href="#s"/><text class="l" x="2.7" y="3.6">GB_GCA_003164455.1</text></g>
<g id="L64" transform="translate(84.6 851)"><use href="#s"/><text class="l" x="2.7" y="3.6">GB_GCA_003133265.1</text></g>
<g id="L65" transform="translate(92.3 864)"><use href="#s"/><text class="l" x="2.7" y="3.6">GB_GCA_003151425.1</text></g>
<g id="L66" transform="translate(97.3 877)"><use href="#s"/><text class="l" x="2.7" y="3.6">GB_GCA_001898425.1</text></g>
<g id="L67" transform="translate(103.3 890)"><use href="#s"/><text class="l" x="2.7" y="3.6">GB_GCA_002422345.1</text></g>
<g id="L68" transform="translate(109.6 903)"><use href="#s"/><text class="l" x="2.7" y="3.6">GB_GCA_003164305.1</text></g>
<g id="L69" transform="translate(103.3 916)"><use href="#s"/><text class="l" x="2.7" y="3.6">RS_GCF_002937115.1</text></g>
<g id="L70" transform="translate(104 929)"><use href="#s"/><text class="l" x="2.7" y="3.6">GB_GCA_003506895.1</text></g>
<g id="L71" transform="translate(87.3 942)"><use href="#s"/><text class="l" x="2.7" y="3.6">RS_GCF_000964365.1</text></g>
<g id="L72" transform="translate(90 955)"><use href="#s"/><text class="l" x="2.7" y="3.6">GB_GCA_003133065.1</text></g>
<g id="L73" transform="translate(94 968)"><use href="#s"/><text class="l" x="2.7" y="3.6">RS_GCF_000014285.2</text></g>
<g id="L74" transform="translate(94 981)"><use href="#s"/><text class="l" x="2.7" y="3.6">RS_GCF_001889545.1</text></g>
<g id="L75" transform="translate(103.3 994)"><use href="#s"/><text class="l" x="2.7" y="3.6">RS_GCF_005844085.1</text></g>
<g id="L76" transform="translate(141.3 1007)"><use href="#s"/><text class="l" x="2.7" y="3.6">RS_GCF_003691365.1</text></g>
<g id="L77" transform="translate(143.3 1020)"><use href="#s"/><text class="l" x="2.7" y="3.6">RS_GCF_000231445.1</text></g>
<g id="L78" transform="translate(143.3 1033)"><use href="#s"/><text class="l" x="2.7" y="3.6">RS_GCF_000527695.1</text></g>
<g id="L79" transform="translate(115.6 1046)"><use href="#s"/><text class="l" x="2.7" y="3.6">RS_GCF_000021325.1</text></g>
<g id="L80" transform="translate(117.3 1059)"><use href="#s"/><text class="l" x="2.7" y="3.6">RS_GCF_003350405.1</text></g>
<g id="L81" transform="translate(124.3 1072)"><use href="#s"/><text class="l" x="2.7" y="3.6">RS_GCF_003311635.1</text></g>
<g id="L82" transform="translate(127.3 1085)"><use href="#s"/><text class="l" x="2.7" y="3.6">RS_GCF_000964405.1</text></g>
<g id="L83" transform="translate(129.6 1098)"><use href="#s"/><text class="l" x="2.7" y="3.6">RS_GCF_002906255.1</text></g>
<g id="L84" transform="translate(129.6 1111)"><use href="#s"/><text class="l" x="2.7" y="3.6">RS_GCF_003206495.1</text></g>
<g id="L85" transform="translate(125.6 1124)"><use href="#s"/><text class="l" x="2.7" y="3.6">RS_GCF_000613305.1</text></g>
<g id="L86" transform="translate(125.6 1137)"><use href="#s"/><text class="l" x="2.7" y="3.6">RS_GCF_003403295.1</text></g>
<g id="L87" transform="translate(127.3 1150)"><use href="#s"/><text class="l" x="2.7" y="3.6">RS_GCF_003207825.1</text></g>
<g id="L88" transform="translate(135 1163)"><use href="#s"/><text class="l" x="2.7" y="3.6">RS_GCF_000964425.1</text></g>
<g id="L89" transform="translate(135 1176)"><use href="#s"/><text class="l" x="2.7" y="3.6">RS_GCF_003207815.1</text></g>
<g id="L90" transform="translate(135 1189)"><use href="#s"/><text class="l" x="2.7" y="3.6">RS_GCF_003207895.1</text></g>
<g id="L91" transform="translate(136.6 1202)"><use href="#s"/><text class="l" x="2.7" y="3.6">RS_GCF_000285295.1</text></g>
<g id="L92" transform="translate(136.6 1215)"><use href="#s"/><text class="l" x="2.7" y="3.6">RS_GCF_006538185.1</text></g>
<g id="L93" transform="translate(136.6 1228)"><use href="#s"/><text class="l" x="2.7" y="3.6">RS_GCF_000182745.2</text></g>
<g id="L94" transform="translate(136.6 1241)"><use href="#s"/><text class="l" x="2.7" y="3.6">RS_GCF_003207855.1</text></g>
<g id="L95" transform="translate(139 1254)"><use href="#s"/><text class="l" x="2.7" y="3.6">RS_GCF_001571345.1</text></g>
<g id="L96" transform="translate(139 1267)"><use href="#s"/><text class="l" x="2.7" y="3.6">RS_GCF_004302915.1</text></g>
<g id="L97" transform="translate(139 1280)"><use href="#s"/><text class="l" x="2.7" y="3.6">RS_GCF_003207795.1</text></g>
<g id="L98" transform="translate(139 1293)"><use href="#s"/><text class="l" x="2.7" y="3.6">RS_GCF_003207865.1</text></g>
<g id="L99" transform="translate(130.6 1306)"><use href="#s"/><text class="l" x="2.7" y="3.6">RS_GCF_000429165.1</text></g>
<g id="L100" transform="translate(130.6 1319)"><use href="#s"/><text class="l" x="2.7" y="3.6">RS_GCF_002153745.1</text></g>
<g id="L101" transform="translate(134.6 1332)"><use href="#s"/><text class="l" x="2.7" y="3.6">RS_GCF_002005445.1</text></g>
<g id="L102" transform="translate(135.6 1345)"><use href="#s"/><text class="l" x="2.7" y="3.6">RS_GCF_000963905.1</text></g>
<g id="L103" transform="translate(135.6 1358)"><use href="#s"/><text class="l" x="2.7" y="3.6">GB_GCA_002409645.1</text></g>
<g id="L104" transform="translate(139 1371)"><use href="#s"/><text class="l" x="2.7" y="3.6">RS_GCF_000613905.1</text></g>
<g id="L105" transform="translate(140 1384)"><use href="#s"/><text class="l" x="2.7" y="3.6">RS_GCF_001581005.1</text></g>
<g id="L106" transform="translate(137.3 1397)"><use href="#s"/><text class="l" x="2.7" y="3.6">RS_GCF_002153605.1</text></g>
<g id="L107" transform="translate(139 1410)"><use href="#s"/><text class="l" x="2.7" y="3.6">RS_GCF_001580535.1</text></g>
<g id="L108" transform="translate(139 1423)"><use href="#s"/><text class="l" x="2.7" y="3.6">RS_GCF_001580615.1</text></g>
<g id="L109" transform="translate(150 1436)"><use href="#s"/><text class="l" x="2.7" y="3.6">RS_GCF_002153485.1</text></g>
<g id="L110" transform="translate(144 1449)"><use href="#s"/><text class="l" x="2.7" y="3.6">RS_GCF_000963925.1</text></g>
<g id="L111" transform="translate(144 1462)"><use href="#s"/><text class="l" x="2.7" y="3.6">RS_GCF_000963965.1</text></g>
<g id="L112" transform="translate(139.6 1475)"><use href="#s"/><text class="l" x="2.7" y="3.6">RS_GCF_000963945.1</text></g>
<g id="L113" transform="translate(140 1488)"><use href="#s"/><text class="l" x="2.7" y="3.6">RS_GCF_001580915.1</text></g>
<g id="L114" transform="translate(140 1501)"><use href="#s"/><text class="l" x="2.7" y="3.6">RS_GCF_001580995.1</text></g>
<g id="L115" transform="translate(137.3 1514)"><use href="#s"/><text class="l" x="2.7" y="3.6">RS_GCF_002738225.1</text></g>
<g id="L116" transform="translate(140 1527)"><use href="#s"/><text class="l" x="2.7" y="3.6">RS_GCF_001183745.1</text></g>
<g id="L117" transform="translate(142.5 1540)"><use href="#s"/><text class="l" x="2.7" y="3.6">RS_GCF_000285275.1</text></g>
<g id="L118" transform="translate(145 1553)"><use href="#s"/><text class="l" x="2.7" y="3.6">RS_GCF_001628715.1</text></g>
<g id="L119" transform="translate(145 1566)"><use href="#s"/><text class="l" x="2.7" y="3.6">RS_GCF_001766235.1</text></g>
<g id="L120" transform="translate(145 1579)"><use href="#s"/><text class="l" x="2.7" y="3.6">RS_GCF_000613285.1</text></g>
<g id="L121" transform="translate(145 1592)"><use href="#s"/><text class="l" x="2.7" y="3.6">RS_GCF_006539345.1</text></g>
<g id="L122" transform="translate(140 1605)"><use href="#s"/><text class="l" x="2.7" y="3.6">RS_GCF_001499675.1</text></g>
<g id="L123" transform="translate(145 1618)"><use href="#s"/><text class="l" x="2.7" y="3.6">RS_GCF_000964225.1</text></g>
<g id="L124" transform="translate(148.3 1631)"><use href="#s"/><text class="l" x="2.7" y="3.6">RS_GCF_002276555.1</text></g>
<g id="L125" transform="translate(151 1644)"><use href="#s"/><text class="l" x="2.7" y="3.6">RS_GCF_000613865.1</text></g>
<g id="L126" transform="translate(151 1657)"><use href="#s"/><text class="l" x="2.7" y="3.6">RS_GCF_002153655.1</text></g>
<g id="L127" transform="translate(129 1670)"><use href="#s"/><text class="l" x="2.7" y="3.6">RS_GCF_000963885.1</text></g>
<g id="L128" transform="translate(140 1683)"><use href="#s"/><text class="l" x="2.7" y="3.6">RS_GCF_002005465.1</text></g>
<g id="L129" transform="translate(145 1696)"><use href="#s"/><text class="l" x="2.7" y="3.6">RS_GCF_004346035.1</text></g>
<g id="L130" transform="translate(139 1709)"><use href="#s"/><text class="l" x="2.7" y="3.6">RS_GCF_001787335.1</text></g>
<g id="L131" transform="translate(152.3 1722)"><use href="#s"/><text class="l" x="2.7" y="3.6">RS_GCF_000613885.1</text></g>
<g id="L132" transform="translate(156.6 1735)"><use href="#s"/><text class="l" x="2.7" y="3.6">RS_GCF_000613845.1</text></g>
<g id="L133" transform="translate(154 1748)"><use href="#s"/><text class="l" x="2.7" y="3.6">RS_GCF_000614545.1</text></g>
<g id="L134" transform="translate(152.3 1761)"><use href="#s"/><text class="l" x="2.7" y="3.6">RS_GCF_003994335.1</text></g>
<g id="L135" transform="translate(154 1774)"><use href="#s"/><text class="l" x="2.7" y="3.6">RS_GCF_001547995.1</text></g>
<g id="L136" transform="translate(154 1787)"><use href="#s"/><text class="l" x="2.7" y="3.6">RS_GCF_900465345.1</text></g>
<g id="L137" transform="translate(164 1800)"><use href="#s"/><text class="l" x="2.7" y="3.6">RS_GCF_000378165.1</text></g>
<g id="L138" transform="translate(167.3 1813)"><use href="#s"/><text class="l" x="2.7" y="3.6">RS_GCF_002592045.1</text></g>
<g id="L139" transform="translate(171.6 1826)"><use href="#s"/><text class="l" x="2.7" y="3.6">RS_GCF_002003665.1</text></g>
<g id="L140" transform="translate(171.6 1839)"><use href="#s"/><text class="l" x="2.7" y="3.6">RS_GCF_002917995.1</text></g>
<g id="L141" transform="translate(167.3 1852)"><use href="#s"/><text class="l" x="2.7" y="3.6">RS_GCF_006542375.1</text></g>
<g id="L142" transform="translate(190.6 1865)"><use href="#s"/><text class="l" x="2.7" y="3.6">RS_GCF_006542395.1</text></g>
<g id="L143" transform="translate(223 1878)"><use href="#s"/><text class="l" x="2.7" y="3.6">RS_GCF_004843165.1</text></g>
<g id="L144" transform="translate(223 1891)"><use href="#s"/><text class="l" x="2.7" y="3.6">RS_GCF_004843345.1</text></g>
<g id="L145" transform="translate(153.3 1904)"><use href="#s"/><text class="l" x="2.7" y="3.6">RS_GCF_001598495.1</text></g>
<g id="L146" transform="translate(154 1917)"><use href="#s"/><text class="l" x="2.7" y="3.6">RS_GCF_006542335.1</text></g>
<g id="L147" transform="translate(153.3 1930)"><use href="#s"/><text class="l" x="2.7" y="3.6">RS_GCF_006542355.1</text></g>
<g id="L148" transform="translate(153.3 1943)"><use href="#s"/><text class="l" x="2.7" y="3.6">RS_GCF_002723935.1</text></g>
<g id="L149" transform="translate(155.6 1956)"><use href="#s"/><text class="l" x="2.7" y="3.6">RS_GCF_000964465.1</text></g>
<g id="L150" transform="translate(158.3 1969)"><use href="#s"/><text class="l" x="2.7" y="3.6">RS_GCF_002723955.1</text></g>
<g id="L151" transform="translate(158.3 1982)"><use href="#s"/><text class="l" x="2.7" y="3.6">RS_GCF_002723975.1</text></g>
<g id="L152" transform="translate(157.3 1995)"><use href="#s"/><text class="l" x="2.7" y="3.6">RS_GCF_000234355.1</text></g>
<g id="L153" transform="translate(161.3 2008)"><use href="#s"/><text class="l" x="2.7" y="3.6">RS_GCF_001580675.1</text></g>
<g id="L154" transform="translate(164 2021)"><use href="#s"/><text class="l" x="2.7" y="3.6">RS_GCF_006538885.1</text></g>
<g id="L155" transform="translate(163 2034)"><use href="#s"/><text class="l" x="2.7" y="3.6">RS_GCF_006539685.1</text></g>
<g id="L156" transform="translate(161.3 2047)"><use href="#s"/><text class="l" x="2.7" y="3.6">RS_GCF_006539125.1</text></g>
<g id="L157" transform="translate(165.6 2060)"><use href="#s"/><text class="l" x="2.7" y="3.6">RS_GCF_002723915.1</text></g>
<g id="L158" transform="translate(165 2073)"><use href="#s"/><text class="l" x="2.7" y="3.6">RS_GCF_002723995.1</text></g>
</g>
</g>
<g id="scale">
<path d="M1 2086H50.7M1 2081.7V2090.7M50.7 2081.7V2090.7" fill="none" stroke="#666" stroke-width="1.3"/>
<text class="t" x="1" y="2103.3" font-size="12.4">0.334492</text>
</g>
</svg>
